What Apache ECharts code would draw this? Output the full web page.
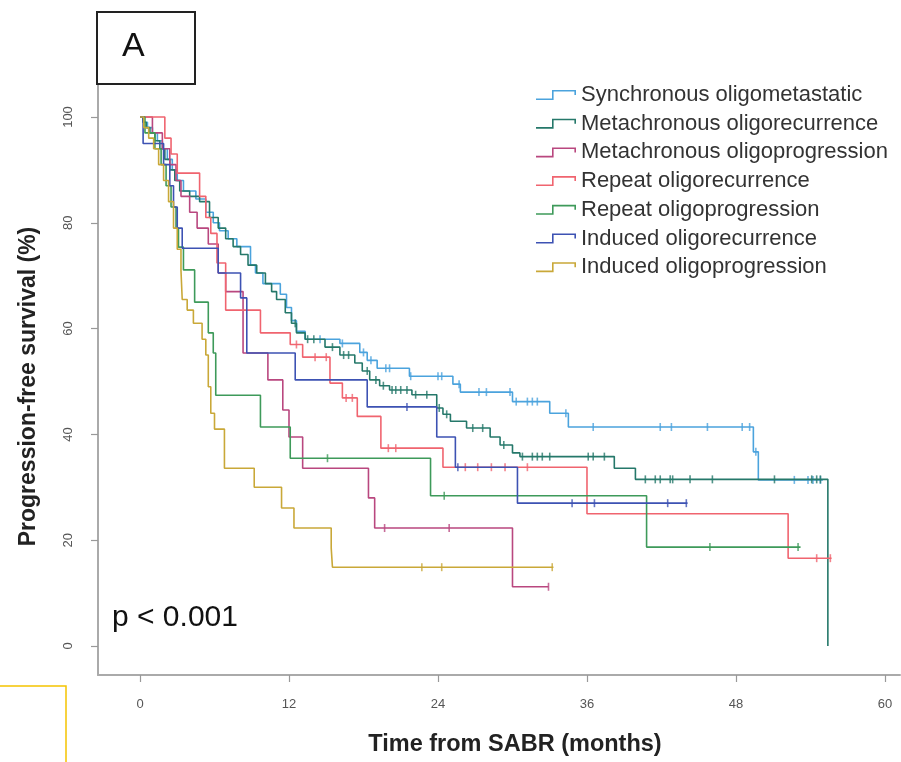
<!DOCTYPE html>
<html>
<head>
<meta charset="utf-8">
<script src="https://cdn.jsdelivr.net/npm/echarts@6/dist/echarts.min.js"></script>
<style>
html,body{margin:0;padding:0;background:#fff;}
#chart{width:901px;height:762px;}
</style>
</head>
<body>
<div id="chart"></div>
<script>
// ---- Data (months, % progression-free) ----
const seriesNames = [
  "Synchronous oligometastatic",
  "Metachronous oligorecurrence",
  "Metachronous oligoprogression",
  "Repeat oligorecurrence",
  "Repeat oligoprogression",
  "Induced oligorecurrence",
  "Induced oligoprogression"
];
const xTicks = [0, 12, 24, 36, 48, 60];
const yTicks = [0, 20, 40, 60, 80, 100];

// Synchronous oligometastatic
const syncT = [0,0.24,0.6,1.0,1.4,1.8,2.2,2.6,3.0,3.5,4.5,5.3,5.9,6.4,7.1,7.8,8.9,9.3,9.9,11.3,11.8,12.2,12.6,13.3,16.1,17.7,18.3,19.1,21.7,25.2,25.8,30.0,33.0,34.5,49.4,49.8,55.0];
const syncS = [100,99,98,97,95.5,94,92,90,88,86,84.5,82,80,78.5,77,75.5,72,70.5,68.5,66.5,64,61.5,59.5,58,57.2,55.5,54,52.5,51,49.5,48,46.2,44,41.4,36.7,31.4,31.4];
const syncCens = [14.5,16.3,18.0,18.6,19.8,20.1,21.8,24.0,24.3,25.7,27.3,27.9,29.8,30.3,31.2,31.6,32.0,34.3,36.5,41.9,42.8,45.7,48.5,49.1,49.6,52.7,53.8,54.2,54.8];

// Metachronous oligorecurrence
const metaRecT = [0,0.24,0.5,0.8,1.2,1.6,2.0,2.4,2.8,3.2,4.0,4.8,5.6,6.3,6.9,7.5,8.1,8.7,9.4,10.1,10.6,11.0,11.7,12.2,12.6,13.3,14.9,16.1,17.3,17.9,18.5,19.3,20.1,21.9,23.9,24.4,25.0,26.3,28.2,29.0,30.0,30.6,38.2,39.9,55.4];
const metaRecS = [100,99,98,97,95.5,94,92,90,88,86,85,84,81,79,77,75.5,74,72,70.5,68.5,67,65.5,63,61,59.2,58,56.5,55,53.5,52,50.3,49.2,48.4,47.5,45,43.8,42.5,41.2,39.5,38,36.5,35.8,33.6,31.5,0];
const metaRecCens = [12.5,13.5,14.0,15.5,16.4,16.8,18.3,19.0,19.6,20.3,20.6,21.0,21.5,22.2,23.1,24.1,24.7,26.8,27.6,29.3,30.8,31.6,32.0,32.4,33.0,36.1,36.5,37.4,40.7,41.5,41.9,42.7,42.9,44.3,46.1,51.1,54.1,54.5,54.8];

// Metachronous oligoprogression
const metaProT = [0,1.0,1.8,2.4,2.9,3.3,4.0,4.6,5.5,6.3,6.9,8.3,10.3,11.5,12.0,13.1,18.4,18.9,30.0,32.9];
const metaProS = [100,97,94,91,88,85,82,79,76,70.5,67,55.4,50.3,44.6,39.5,33.6,28,22.3,11.2,11.2];
const metaProCens = [19.7,24.9,32.9];

// Repeat oligorecurrence
const repRecT = [0,2.0,2.5,3.0,4.8,5.3,5.7,6.2,6.9,9.7,12.1,13.1,15.3,16.3,17.5,19.4,24.4,36.0,52.2,55.7];
const repRecS = [100,96,93,89.4,85,81,78,72.4,63.5,59.2,57,54.6,49.7,46.9,43.4,37.4,33.8,25,16.6,16.6];
const repRecCens = [12.6,14.1,15.0,16.6,17.1,20.0,20.6,26.2,27.2,28.3,29.4,31.2,54.5,55.6];

// Repeat oligoprogression
const repProT = [0,0.4,1.2,1.7,2.1,2.5,2.9,3.1,3.5,4.4,5.5,5.9,6.1,9.7,12.1,23.4,40.8,53.2];
const repProS = [100,97,94,91,87,83,79,75.4,71.1,65,59.2,55.4,47.4,41.4,35.5,28.4,18.7,18.7];
const repProCens = [15.1,24.5,45.9,53.0];

// Induced oligorecurrence
const indRecT = [0,0.25,1.9,2.4,2.7,3.0,3.4,6.3,8.1,8.6,12.5,18.3,23.9,25.4,30.4,44.1];
const indRecS = [100,95,91,87,83,79,75.2,70.5,65.8,55.4,50.3,45.2,39.5,33.8,27,27];
const indRecCens = [21.5,25.6,34.8,36.6,42.5,44.0];

// Induced oligoprogression
const indProT = [0,0.3,0.7,1.1,1.5,1.9,2.3,2.7,3.0,3.3,3.4,3.8,4.3,5.0,5.3,5.5,5.7,6.0,6.8,9.2,11.4,12.4,15.4,15.5,33.3];
const indProS = [100,98,96,94,91,88,84,79,75,71,65.5,63.5,61,58,55,49,44,41,33.6,30,26.1,22.3,18.5,14.9,14.9];
const indProCens = [22.7,24.3,33.2];

const colors = ["#4ba3dd","#25786a","#b9477f","#f0646f","#3e9a5a","#3d52b3","#c9a838"];

// ---- Build ----
const curves = [
  [syncT, syncS, syncCens],
  [metaRecT, metaRecS, metaRecCens],
  [metaProT, metaProS, metaProCens],
  [repRecT, repRecS, repRecCens],
  [repProT, repProS, repProCens],
  [indRecT, indRecS, indRecCens],
  [indProT, indProS, indProCens]
];
function survAt(T, S, t) {
  let v = S[0];
  for (let i = 0; i < T.length; i++) if (T[i] <= t) v = S[i];
  return v;
}
const series = [];
curves.forEach((c, k) => {
  const [T, S, C] = c;
  series.push({
    name: seriesNames[k], type: 'line', step: 'end', symbol: 'none', showSymbol: false,
    data: T.map((t, i) => [t, S[i]]),
    lineStyle: { color: colors[k], width: 1.6 }, itemStyle: { color: colors[k] },
    z: 2 + k, silent: true
  });
  series.push({
    name: seriesNames[k] + ' (censored)', type: 'scatter', symbol: 'rect', symbolSize: [1.6, 8],
    data: C.map(t => [t, survAt(T, S, t)]),
    itemStyle: { color: colors[k] }, z: 2 + k, silent: true
  });
});

const fontFam = '"Liberation Sans", Arial, sans-serif';
const stepIcon = 'path://M0,8.4 L16,8.4 L16,0 L40,0 L40,5 L38.4,5 L38.4,1.6 L17.6,1.6 L17.6,10 L0,10 Z';

// plot region extends a little beyond the tick range (R-style)
const xMin = -3.383, xMax = 61.21;
const yMin = -5.482, yMax = 106.24;

const chart = echarts.init(document.getElementById('chart'));
chart.setOption({
  animation: false,
  backgroundColor: '#fff',
  textStyle: { fontFamily: fontFam },
  grid: { left: 98, right: 1, top: 84, bottom: 87, containLabel: false },
  legend: {
    data: seriesNames, orient: 'vertical', left: 531, top: 79,
    icon: stepIcon, itemWidth: 40, itemHeight: 10, itemGap: 6.7,
    textStyle: { fontSize: 22, color: '#333', fontFamily: fontFam },
    selectedMode: false
  },
  xAxis: {
    type: 'value', min: xMin, max: xMax,
    axisLine: { show: true, onZero: false, lineStyle: { color: '#aaa', width: 2 } }, splitLine: { show: false },
    axisTick: { show: true, length: 7, customValues: xTicks, lineStyle: { color: '#999', width: 1.2 } },
    axisLabel: { margin: 23, fontSize: 13, color: '#555', fontFamily: fontFam, customValues: xTicks },
    name: 'Time from SABR (months)', nameLocation: 'middle', nameGap: 58,
    nameTextStyle: { fontSize: 23.5, fontWeight: 'bold', color: '#222', fontFamily: fontFam, padding: [0, 0, 0, 32] }
  },
  yAxis: {
    type: 'value', min: yMin, max: yMax,
    axisLine: { show: true, onZero: false, lineStyle: { color: '#aaa', width: 2 } }, splitLine: { show: false },
    axisTick: { show: true, length: 7, customValues: yTicks, lineStyle: { color: '#999', width: 1.2 } },
    axisLabel: { margin: 23, fontSize: 13, color: '#555', rotate: 90, fontFamily: fontFam, customValues: yTicks },
    name: 'Progression-free survival (%)', nameLocation: 'middle', nameGap: 58,
    nameTextStyle: { fontSize: 23, fontWeight: 'bold', color: '#222', fontFamily: fontFam, padding: [0, 14, 0, 0] }
  },
  graphic: [
    { type: 'rect', shape: { x: 97, y: 12, width: 98, height: 72 }, style: { fill: '#fff', stroke: '#222', lineWidth: 2 }, silent: true, z: 100 },
    { type: 'text', left: 122, top: 30, style: { text: 'A', font: '34px ' + fontFam, fill: '#111' }, silent: true, z: 101 },
    { type: 'text', left: 112, top: 603, style: { text: 'p < 0.001', font: '30px ' + fontFam, fill: '#111' }, silent: true },
    { type: 'polyline', shape: { points: [[0, 686], [66, 686], [66, 762]] }, style: { stroke: '#f5c400', lineWidth: 1.5, fill: null }, silent: true }
  ],
  series: series
});
</script>
</body>
</html>
